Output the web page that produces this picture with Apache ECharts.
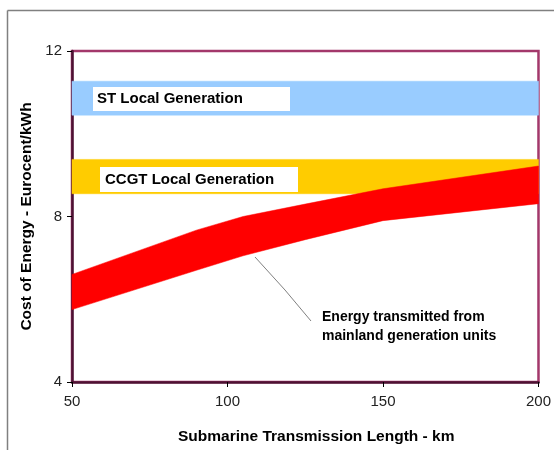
<!DOCTYPE html>
<html>
<head>
<meta charset="utf-8">
<script src="https://cdn.jsdelivr.net/npm/echarts@6/dist/echarts.min.js"></script>
<style>
  html, body { margin: 0; padding: 0; background: #fff; }
  #chart { width: 554px; height: 450px; }
</style>
</head>
<body>
<div id="chart"></div>
<script>
// submarine cable length (km)
var lengths = [50, 90, 105, 125, 150, 200]
// energy transmitted from mainland: lower / upper cost edge (Eurocent/kWh)
var mainlandLow = [5.75, 6.7, 7.05, 7.44, 7.9, 8.31]
var mainlandHigh = [6.6, 7.67, 8.0, 8.3, 8.67, 9.22]
// local generation cost ranges, same at every length
var stLow = [10.45, 10.45, 10.45, 10.45, 10.45, 10.45]
var stHigh = [11.27, 11.27, 11.27, 11.27, 11.27, 11.27]
var ccgtLow = [8.55, 8.55, 8.55, 8.55, 8.55, 8.55]
var ccgtHigh = [9.38, 9.38, 9.38, 9.38, 9.38, 9.38]
var xTicks = [50, 100, 150, 200]
var yTicks = [4, 8, 12]

var font = '"Liberation Sans", Arial, sans-serif'

// filled band between a low and a high edge, drawn as one polygon
function band(name, low, high, color) {
  return {
    name: name,
    type: 'custom',
    silent: true,
    data: lengths.map(function(x, i) { return [x, low[i], high[i]] }),
    encode: { x: 0, y: [1, 2] },
    renderItem: function(params, api) {
      if (params.dataIndex !== 0) return
      var pts = []
      lengths.forEach(function(x, i) { pts.push(api.coord([x, high[i]])) })
      for (var i = lengths.length - 1; i >= 0; i--) pts.push(api.coord([lengths[i], low[i]]))
      return {
        type: 'polygon',
        shape: { points: pts },
        style: { fill: color, stroke: color, lineWidth: 0.5 }
      }
    }
  }
}

var chart = echarts.init(document.getElementById('chart'))
chart.setOption({
  backgroundColor: '#fff',
  animation: false,
  grid: {
    left: 72,
    right: 14,
    top: 51,
    bottom: 64,
    show: true,
    borderColor: '#a3386b',
    borderWidth: 2.5
  },
  xAxis: {
    type: 'value',
    min: xTicks[0],
    max: xTicks[xTicks.length - 1],
    interval: 50,
    name: 'Submarine Transmission Length - km',
    nameLocation: 'middle',
    nameGap: 47,
    nameTextStyle: { fontFamily: font, fontWeight: 'bold', fontSize: 15.5, color: '#000', padding: [0, 0, 0, 22] },
    axisLine: { lineStyle: { color: '#4d1233', width: 2.5 } },
    axisTick: { show: true, length: 5, lineStyle: { color: '#000' } },
    axisLabel: { margin: 12, fontFamily: font, fontSize: 15, color: '#222' },
    splitLine: { show: false }
  },
  yAxis: {
    type: 'value',
    min: yTicks[0],
    max: yTicks[yTicks.length - 1],
    interval: 4,
    name: 'Cost of Energy - Eurocent/kWh',
    nameLocation: 'middle',
    nameGap: 37,
    nameTextStyle: { fontFamily: font, fontWeight: 'bold', fontSize: 15.5, color: '#000' },
    axisLine: { show: true, lineStyle: { color: '#4d1233', width: 2.5 } },
    axisTick: { show: true, length: 5, lineStyle: { color: '#000' } },
    axisLabel: { margin: 10, fontFamily: font, fontSize: 15, color: '#222' },
    splitLine: { show: false }
  },
  graphic: [
    // outer frame (top and left)
    { type: 'line', shape: { x1: 7.5, y1: 10.5, x2: 554, y2: 10.5 }, style: { stroke: '#808080', lineWidth: 1.5 } },
    { type: 'line', shape: { x1: 7.5, y1: 10.5, x2: 7.5, y2: 450 }, style: { stroke: '#808080', lineWidth: 1.5 } },
    // band labels
    { type: 'rect', shape: { x: 93, y: 87, width: 197, height: 24 }, style: { fill: '#fff' }, z: 10 },
    { type: 'text', x: 97, y: 99, style: { text: 'ST Local Generation', font: 'bold 15px ' + font, fill: '#000', verticalAlign: 'middle' }, z: 11 },
    { type: 'rect', shape: { x: 100, y: 167, width: 198, height: 25 }, style: { fill: '#fff' }, z: 10 },
    { type: 'text', x: 105, y: 179.5, style: { text: 'CCGT Local Generation', font: 'bold 15px ' + font, fill: '#000', verticalAlign: 'middle' }, z: 11 },
    // callout for mainland band
    { type: 'polyline', shape: { points: [[255, 257], [285, 290], [311, 321]] }, style: { stroke: '#808080', lineWidth: 1, fill: null }, z: 10 },
    { type: 'text', x: 322, y: 308, style: { text: 'Energy transmitted from\nmainland generation units', font: 'bold 14px ' + font, fill: '#000', lineHeight: 19 }, z: 11 }
  ],
  series: [
    band('ST Local Generation', stLow, stHigh, '#99ccff'),
    band('CCGT Local Generation', ccgtLow, ccgtHigh, '#ffcc00'),
    band('Energy transmitted from mainland generation units', mainlandLow, mainlandHigh, '#ff0000')
  ]
})
</script>
</body>
</html>
